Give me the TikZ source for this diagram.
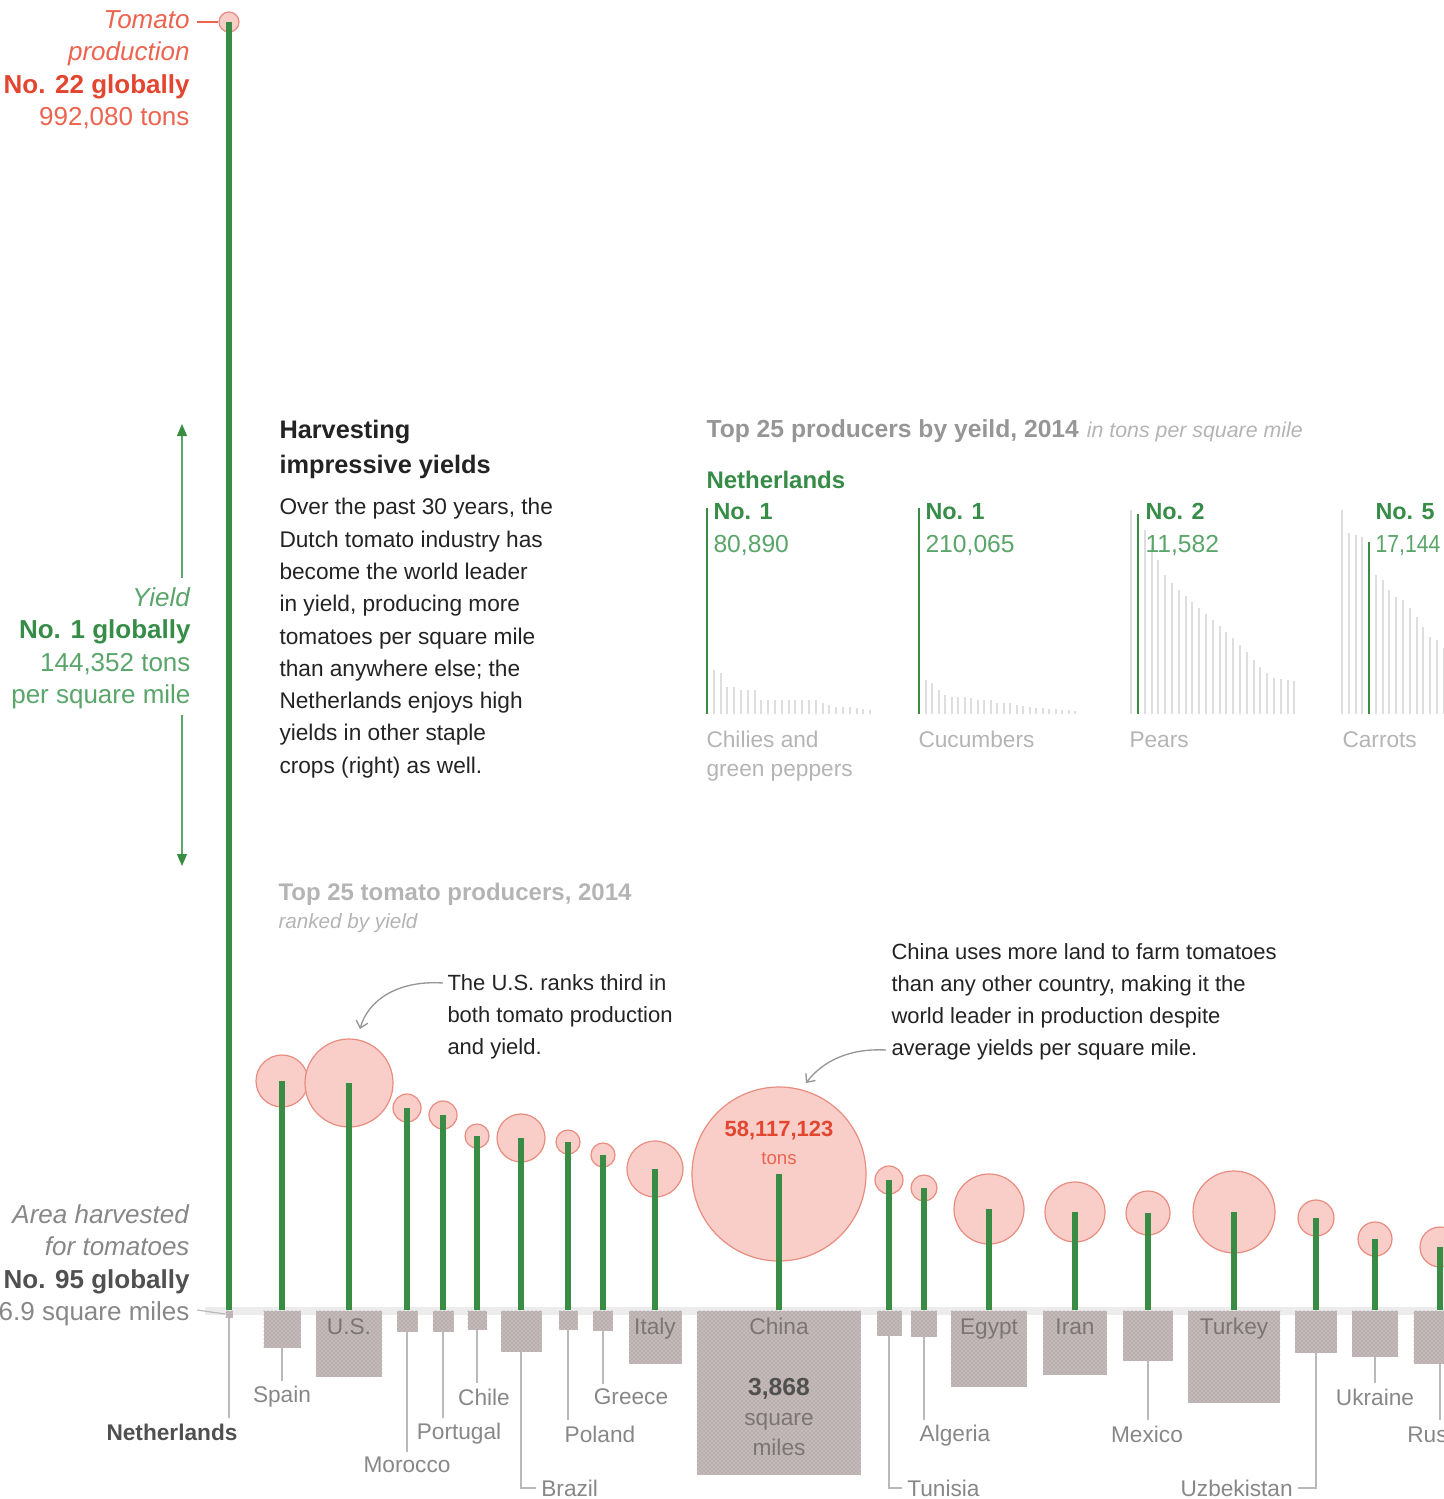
\documentclass[tikz,border=0pt]{standalone}
\usepackage{fontspec}
\setmainfont{Liberation Sans}
\usetikzlibrary{arrows.meta,patterns}

\definecolor{stemgreen}{RGB}{56,140,68}
\definecolor{textgreen}{RGB}{55,140,72}
\definecolor{lightgreen}{RGB}{90,165,105}
\definecolor{tomred}{RGB}{226,70,48}
\definecolor{tomlight}{RGB}{236,100,80}
\definecolor{bloomfill}{RGB}{250,206,200}
\definecolor{bloomedge}{RGB}{232,140,128}
\definecolor{areafill}{RGB}{196,186,186}
\definecolor{areadot}{RGB}{150,140,140}
\definecolor{labelgray}{RGB}{135,135,135}
\definecolor{inkgray}{RGB}{80,80,80}
\definecolor{headgray}{RGB}{150,150,150}
\definecolor{boxink}{RGB}{125,116,116}
\definecolor{palegray}{RGB}{180,180,180}
\definecolor{bodyink}{RGB}{35,35,35}
\definecolor{bargray}{RGB}{222,222,222}
\definecolor{leadgray}{RGB}{185,185,185}
\definecolor{bandgray}{RGB}{236,236,236}

\newcommand{\tmLeft}{\fontsize{19.5}{24.4}\selectfont}
\newcommand{\tmHead}{\fontsize{19}{26}\selectfont}
\newcommand{\tmBody}{\fontsize{17}{24.2}\selectfont}
\newcommand{\tmNote}{\fontsize{16.5}{24}\selectfont}
\newcommand{\tmLabel}{\fontsize{17}{21.75}\selectfont}

\tikzset{every picture/.style={line width=0.75pt}}
\tikzset{
  bloom/.style={circle, draw=bloomedge, fill=bloomfill, line width=0.9pt, inner sep=0pt},
  areabox/.style={rectangle, fill=areafill, postaction={pattern=crosshatch dots, pattern color=areadot}, inner sep=0pt, anchor=north},
  stem/.style={draw=stemgreen, line width=4.5pt},
  leader/.style={draw=leadgray, line width=0.9pt},
  ctry/.style={text=labelgray, font=\tmLabel, inner sep=0pt, outer sep=4pt},
  inbox/.style={text=boxink, font=\tmLabel, inner sep=0pt, anchor=north},
  otherbar/.style={draw=bargray, line width=1.5pt},
  nlbar/.style={draw=stemgreen, line width=2.2pt},
  txt/.style={inner sep=0pt, anchor=north west, align=left},
  yarrow/.style={draw=lightgreen, line width=0.9pt, -{Triangle[width=7.5pt,length=9pt,color=stemgreen]}},
  notearrow/.style={draw=headgray, line width=1pt, -{Straight Barb[length=5pt,width=9pt]}}
}

\begin{document}
\begin{tikzpicture}[x=0.75pt,y=0.75pt,yscale=-1,xscale=1]
\useasboundingbox (0,0) rectangle (1444,1499);
\clip (0,0) rectangle (1444,1499);

%Shape: baseline band
\draw[draw=bandgray, line width=6pt] (205,1311) -- (1444,1311);

%Shape: Circles, boxes and stems
\foreach \cn/\cx/\cy/\cr/\cs in {nl/229/22/10/7, spain/282/1081/26/37, us/349/1083/44/66,
    morocco/407/1108/14/21, portugal/443/1115/14/21, chile/477/1136/12/19, brazil/521/1138/24/41,
    poland/568/1142/12/19, greece/603/1155/12/20, italy/655/1169/28/53, china/779/1174/87/164,
    tunisia/889/1180/14/25, algeria/924/1188/13/26, egypt/989/1209/35/76, iran/1075/1212/30/64,
    mexico/1148/1213/22/50, turkey/1234/1212/41/92, uzbekistan/1316/1218/18/42,
    ukraine/1375/1239/17/46, russia/1440/1247/20/53}{
  \node[bloom, minimum size={1.5pt*\cr}] (c-\cn) at (\cx,\cy) {};
  \node[areabox, minimum size={0.75pt*\cs}] (a-\cn) at (\cx,1310) {};
  \draw[stem] (c-\cn.center) -- (a-\cn.north);
}

% Text Node
\node[txt, anchor=north east, align=right, font=\tmLeft] (tomlab) at (190,10) {\textcolor{tomlight}{\textit{Tomato}}\\\textcolor{tomlight}{\textit{production}}\\\textcolor{tomred}{\textbf{No. 22 globally}}\\\textcolor{tomlight}{992,080 tons}};
\coordinate (tomtick) at (197,22);
\draw[draw=tomlight, line width=0.9pt] (tomtick) -- (c-nl.west);

% Text Node
\node[txt, anchor=north east, align=right, font=\tmLeft] (yieldlab) at (191,587) {\textcolor{lightgreen}{\textit{Yield}}\\\textcolor{textgreen}{\textbf{No. 1 globally}}\\\textcolor{lightgreen}{144,352 tons}\\\textcolor{lightgreen}{per square mile}};
\coordinate (ytop) at (182,424);
\coordinate (ybot) at (182,866);
\draw[yarrow, shorten <=7pt] (yieldlab.north -| ytop) -- (ytop);
\draw[yarrow, shorten <=4pt] (yieldlab.south -| ybot) -- (ybot);

% Text Node
\node[txt, anchor=north east, align=right, font=\tmLeft] (arealab) at (190,1204) {\textcolor{labelgray}{\textit{Area harvested}}\\\textcolor{labelgray}{\textit{for tomatoes}}\\\textcolor{inkgray}{\textbf{No. 95 globally}}\\\textcolor{labelgray}{6.9 square miles}};
\coordinate (areatick) at (197,1310);
\draw[leader] (areatick) -- (a-nl.west);

% Text Node
\node[txt, font=\tmHead, text=bodyink] (harvhead) at (279,420) {\textbf{Harvesting}\\\textbf{impressive yields}};
% Text Node
\node[txt, font=\tmBody, text=bodyink] (harvbody) at (279,498) {Over the past 30 years, the\\Dutch tomato industry has\\become the world leader\\in yield, producing more\\tomatoes per square mile\\than anywhere else; the\\Netherlands enjoys high\\yields in other staple\\crops (right) as well.};

% Text Node
\node[txt, text=headgray, font=\fontsize{18.5}{22}\selectfont] (croptitle) at (706,419) {\textbf{Top 25 producers by yeild, 2014}\hspace{6pt}{\fontsize{16}{19}\selectfont\itshape\textcolor{palegray}{in tons per square mile}}};
\node[txt, text=textgreen, font=\fontsize{18}{22}\selectfont\bfseries] (cropnl) at (706,471) {Netherlands};

%Small bar charts
% chilies
\draw[nlbar] (707,714) -- (707,508);
\foreach \t [count=\i] in {670,673,687,687,690,690,690,700,700,700,700,700,700,700,700,700,703,705,707,707,707,708,709,710}
  \draw[otherbar] ({707+6.8*\i},714) -- ({707+6.8*\i},\t);
% cucumbers
\draw[nlbar] (919,714) -- (919,508);
\foreach \t [count=\i] in {680,683,690,695,697,697,697,698,700,700,700,703,703,703,705,706,707,708,708,709,709,710,710,711}
  \draw[otherbar] ({919+6.5*\i},714) -- ({919+6.5*\i},\t);
% pears
\draw[otherbar] (1131,714) -- (1131,510);
\draw[nlbar] (1138,714) -- (1138,514);
\foreach \t [count=\i] in {530,545,560,575,583,590,596,602,608,614,620,626,632,638,645,652,660,667,673,678,679,680,681}
  \draw[otherbar] ({1138+6.8*\i},714) -- ({1138+6.8*\i},\t);
% carrots
\foreach \t [count=\i] in {510,533,535,537}
  \draw[otherbar] ({1342+6.8*(\i-1)},714) -- ({1342+6.8*(\i-1)},\t);
\draw[nlbar] (1369,714) -- (1369,542);
\foreach \t [count=\i] in {575,580,590,597,600,608,617,627,637,640,648,656}
  \draw[otherbar] ({1369+6.8*\i},714) -- ({1369+6.8*\i},\t);

% Text Node
\foreach \cn/\cx/\rk/\val in {chili/713/No. 1/80{,}890, cucum/925/No. 1/210{,}065, pear/1145/No. 2/11{,}582, carrot/1375/No. 5/\scalebox{0.86}[1]{17{,}144}}{
  \node[txt, text=textgreen, font=\fontsize{17.5}{21}\selectfont\bfseries] (rk-\cn) at (\cx,503) {\rk};
  \node[txt, text=lightgreen, font=\fontsize{18.5}{22}\selectfont] (val-\cn) at (\cx,535) {\val};
}
\node[txt, text=palegray, font=\tmLabel] (lab-chili) at (706,731) {Chilies and\\green peppers};
\node[txt, text=palegray, font=\tmLabel] (lab-cucum) at (918,731) {Cucumbers};
\node[txt, text=palegray, font=\tmLabel] (lab-pear) at (1129,731) {Pears};
\node[txt, text=palegray, font=\tmLabel] (lab-carrot) at (1342,731) {Carrots};

% Text Node
\node[txt, text=palegray, font=\fontsize{18}{22}\selectfont\bfseries] (tomtitle) at (278,883) {Top 25 tomato producers, 2014};
\node[txt, text=palegray, font=\fontsize{15.5}{19}\selectfont\itshape] (tomsub) at (278,913) {ranked by yield};

% Text Node
\node[txt, text=bodyink, font=\tmNote] (usnote) at (447,974) {The U.S. ranks third in\\both tomato production\\and yield.};
\coordinate (usfrom) at (443,983);
\coordinate (usto) at (360,1029);
\draw[notearrow] (usfrom) .. controls (398,980) and (368,1000) .. (usto);

% Text Node
\node[txt, text=bodyink, font=\tmNote] (chinanote) at (891,943) {China uses more land to farm tomatoes\\than any other country, making it the\\world leader in production despite\\average yields per square mile.};
\coordinate (chinafrom) at (886,1050);
\coordinate (chinato) at (806,1083);
\draw[notearrow] (chinafrom) .. controls (848,1048) and (822,1062) .. (chinato);

% Text Node
\node[inner sep=0pt, text=tomred, font=\fontsize{16.5}{20}\selectfont\bfseries] (chinatons) at (779,1131) {58,117,123};
\node[inner sep=0pt, text=tomlight, font=\fontsize{14}{17}\selectfont] (chinaunit) at (779,1159) {tons};
\node[inner sep=0pt, anchor=north, align=center, text=boxink, font=\fontsize{17}{22.5}\selectfont] (chinaarea) at (779,1378) {\textcolor{inkgray}{\fontsize{18.5}{22.5}\selectfont\bfseries 3,868}\\square\\miles};

% Text Node
\foreach \cn/\cx/\txt in {us/349/U.S., italy/655/Italy, china/779/China, egypt/989/Egypt, iran/1075/Iran, turkey/1234/Turkey}
  \node[inbox] (t-\cn) at (\cx,1318) {\txt};

%Country labels and leaders
\node[ctry, text=inkgray, font=\tmLabel\bfseries] (l-nl) at (172,1432) {Netherlands};
\draw[leader] (a-nl.south) -- (a-nl.south |- l-nl.north);
\foreach \cn/\lx/\ly/\txt in {spain/282/1397/Spain, morocco/407/1465/Morocco, portugal/459/1434/Portugal,
    chile/484/1397/Chile, poland/600/1434/Poland, greece/631/1397/Greece, algeria/955/1436/Algeria,
    mexico/1147/1434/Mexico, ukraine/1375/1397/Ukraine}{
  \node[ctry] (l-\cn) at (\lx,\ly) {\txt};
  \draw[leader] (a-\cn.south) -- (a-\cn.south |- l-\cn.north);
}
\node[ctry, anchor=west] (l-russia) at (1402,1434) {Russia};
\draw[leader] (a-russia.south) -- (a-russia.south |- l-russia.north);
\node[ctry, anchor=west] (l-brazil) at (536,1488) {Brazil};
\draw[leader] (a-brazil.south) |- (l-brazil.west);
\node[ctry, anchor=west] (l-tunisia) at (902,1488) {Tunisia};
\draw[leader] (a-tunisia.south) |- (l-tunisia.west);
\node[ctry, anchor=east] (l-uzbekistan) at (1298,1488) {Uzbekistan};
\draw[leader] (a-uzbekistan.south) |- (l-uzbekistan.east);
\end{tikzpicture}
\end{document}
